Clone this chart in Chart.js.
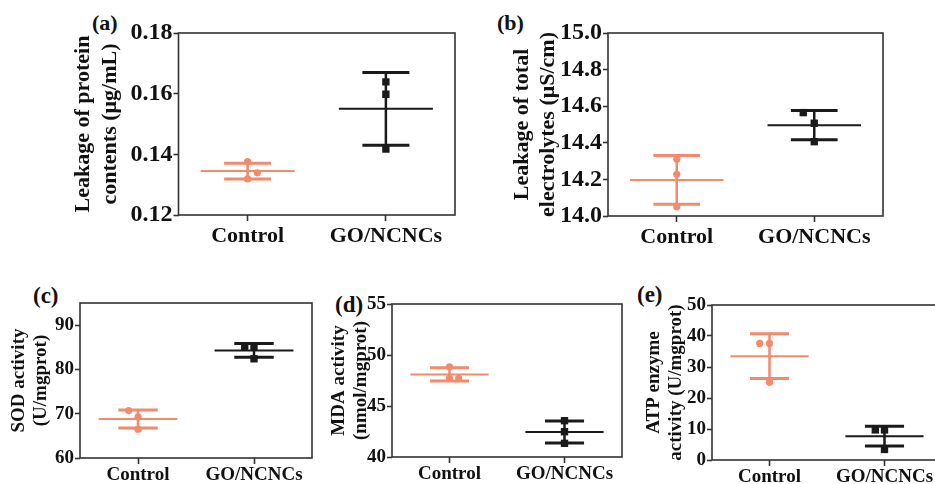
<!DOCTYPE html>
<html>
<head>
<meta charset="utf-8">
<script src="https://cdn.jsdelivr.net/npm/chart.js@4"></script>
<style>
  body { margin: 0; background: #fff; width: 935px; height: 484px; overflow: hidden; position: relative; font-family: "Liberation Serif", serif; }
  canvas { position: absolute; }
  .tag { position: absolute; font-weight: bold; line-height: 1; color: #111; }
</style>
</head>
<body>
<div class="tag" style="left:92px;top:12px;font-size:22px">(a)</div>
<div class="tag" style="left:497px;top:12px;font-size:22px">(b)</div>
<div class="tag" style="left:33px;top:284px;font-size:23px">(c)</div>
<div class="tag" style="left:335px;top:293px;font-size:23px">(d)</div>
<div class="tag" style="left:637px;top:283px;font-size:23px">(e)</div>
<canvas id="chartA"></canvas>
<canvas id="chartB"></canvas>
<canvas id="chartC"></canvas>
<canvas id="chartD"></canvas>
<canvas id="chartE"></canvas>
<script>
const groups = ["Control", "GO/NCNCs"];
const colors = ["#f28a6c", "#1a1a1a"];
const serif = "'Liberation Serif', 'Times New Roman', serif";

// (a) leakage of protein contents
const proteinControl = [0.1376, 0.1339, 0.1319];
const proteinGO = [0.1639, 0.1598, 0.1417];
const proteinMean = [0.1345, 0.1550];
const proteinSD = [0.0026, 0.0120];
const proteinJitter = [[0, 0.07, 0], [0, 0, 0]];
const proteinTicks = [0.12, 0.14, 0.16, 0.18];

// (b) leakage of total electrolytes
const electroControl = [14.310, 14.228, 14.051];
const electroGO = [14.565, 14.507, 14.406];
const electroMean = [14.197, 14.496];
const electroSD = [0.133, 0.080];
const electroJitter = [[0, 0, 0], [-0.08, 0, 0]];
const electroTicks = [14.0, 14.2, 14.4, 14.6, 14.8, 15.0];

// (c) SOD activity
const sodControl = [70.7, 69.3, 66.5];
const sodGO = [85.1, 85.1, 82.4];
const sodMean = [68.8, 84.3];
const sodSD = [2.05, 1.55];
const sodJitter = [[-0.08, 0, 0], [-0.08, 0, 0]];
const sodTicks = [60, 70, 80, 90];

// (d) MDA activity
const mdaControl = [48.85, 47.71, 47.71];
const mdaGO = [43.56, 42.48, 41.34];
const mdaMean = [48.1, 42.45];
const mdaSD = [0.66, 1.07];
const mdaJitter = [[0, 0, 0.08], [0, 0, 0]];
const mdaTicks = [40, 45, 50, 55];

// (e) ATP enzyme activity
const atpControl = [37.6, 37.6, 25.1];
const atpGO = [9.7, 9.7, 3.4];
const atpMean = [33.5, 7.7];
const atpSD = [7.2, 3.2];
const atpJitter = [[-0.085, 0, 0], [-0.08, 0, 0]];
const atpTicks = [0, 10, 20, 30, 40, 50];

function segment(x0, x1, y0, y1, color, width) {
  return {
    data: [{ x: x0, y: y0 }, { x: x1, y: y1 }],
    showLine: true, borderColor: color, borderWidth: width, pointRadius: 0
  };
}

function groupSets(i, values, jitter, mean, sd) {
  const c = i + 1;
  const color = colors[i];
  return [
    segment(c - 0.34, c + 0.34, mean, mean, color, 2),
    segment(c - 0.17, c + 0.17, mean + sd, mean + sd, color, 3),
    segment(c - 0.17, c + 0.17, mean - sd, mean - sd, color, 3),
    segment(c, c, mean - sd, mean + sd, color, 2.5),
    {
      data: values.map((v, k) => ({ x: c + jitter[k], y: v })),
      pointStyle: i === 0 ? "circle" : "rect",
      pointRadius: i === 0 ? 3.6 : 5.2,
      backgroundColor: color, borderColor: color, borderWidth: 0
    }
  ];
}

const frame = {
  id: "frame",
  afterDraw(chart) {
    const { ctx, chartArea: a } = chart;
    ctx.save();
    ctx.strokeStyle = "#333";
    ctx.lineWidth = 1.6;
    ctx.strokeRect(a.left, a.top, a.right - a.left, a.bottom - a.top);
    ctx.restore();
  }
};

function buildPanel(id, p) {
  const canvas = document.getElementById(id);
  const padTop = 16, padRight = 8;
  const canvasLeft = p.titleX - p.lh / 2 - 2;
  const yW = p.box.l - canvasLeft;
  canvas.width = yW + (p.box.r - p.box.l) + padRight;
  canvas.height = padTop + (p.box.b - p.box.t) + p.xH;
  canvas.style.left = canvasLeft + "px";
  canvas.style.top = (p.box.t - padTop) + "px";

  const datasets = [
    ...groupSets(0, p.control, p.jitter[0], p.mean[0], p.sd[0]),
    ...groupSets(1, p.go, p.jitter[1], p.mean[1], p.sd[1])
  ];

  new Chart(canvas, {
    type: "scatter",
    data: { datasets },
    plugins: [frame],
    options: {
      responsive: false,
      devicePixelRatio: 1,
      animation: false,
      layout: { padding: { top: padTop, right: padRight, left: 0, bottom: 0 } },
      plugins: { legend: { display: false }, tooltip: { enabled: false } },
      scales: {
        x: {
          type: "linear", min: 0.5, max: 2.5,
          afterBuildTicks: s => { s.ticks = groups.map((g, i) => ({ value: i + 1 })); },
          afterFit: s => { s.height = p.xH; },
          border: { display: false },
          grid: { drawOnChartArea: false, tickLength: 6, tickWidth: 1.6, tickColor: "#333" },
          ticks: {
            padding: p.xPad,
            color: "#111",
            font: { family: serif, weight: "bold", size: p.catFont },
            callback: v => groups[v - 1]
          }
        },
        y: {
          min: p.ticks[0], max: p.max,
          afterBuildTicks: s => { s.ticks = p.ticks.map(v => ({ value: v })); },
          afterFit: s => { s.width = yW; },
          border: { display: false },
          grid: { drawOnChartArea: false, tickLength: 5, tickWidth: 1.6, tickColor: "#333" },
          ticks: {
            padding: 1,
            color: "#111",
            font: { family: serif, weight: "bold", size: p.tickFont },
            callback: v => v.toFixed(p.decimals)
          },
          title: {
            display: true,
            text: p.title,
            color: "#111",
            padding: { top: 2, bottom: 0 },
            font: { family: serif, weight: "bold", size: p.titleFont, lineHeight: p.lh + "px" }
          }
        }
      }
    }
  });
}

buildPanel("chartA", {
  box: { l: 178, t: 33, r: 455, b: 215 }, titleX: 83, lh: 27, xH: 45, xPad: 2,
  tickFont: 24, catFont: 22, titleFont: 22,
  title: ["Leakage of protein", "contents (μg/mL)"],
  control: proteinControl, go: proteinGO, mean: proteinMean, sd: proteinSD,
  jitter: proteinJitter, ticks: proteinTicks, max: 0.18, decimals: 2
});

buildPanel("chartB", {
  box: { l: 608, t: 33, r: 883, b: 216 }, titleX: 522, lh: 26, xH: 45, xPad: 2,
  tickFont: 24, catFont: 22, titleFont: 22,
  title: ["Leakage of total", "electrolytes (μS/cm)"],
  control: electroControl, go: electroGO, mean: electroMean, sd: electroSD,
  jitter: electroJitter, ticks: electroTicks, max: 15.0, decimals: 1
});

buildPanel("chartC", {
  box: { l: 80, t: 303, r: 312, b: 458 }, titleX: 19, lh: 22, xH: 40, xPad: 0,
  tickFont: 19, catFont: 19, titleFont: 19,
  title: ["SOD activity", "(U/mgprot)"],
  control: sodControl, go: sodGO, mean: sodMean, sd: sodSD,
  jitter: sodJitter, ticks: sodTicks, max: 95, decimals: 0
});

buildPanel("chartD", {
  box: { l: 392, t: 304, r: 622, b: 457 }, titleX: 339, lh: 22, xH: 40, xPad: 0,
  tickFont: 19, catFont: 19, titleFont: 19,
  title: ["MDA activity", "(nmol/mgprot)"],
  control: mdaControl, go: mdaGO, mean: mdaMean, sd: mdaSD,
  jitter: mdaJitter, ticks: mdaTicks, max: 55, decimals: 0
});

buildPanel("chartE", {
  box: { l: 712, t: 305, r: 942, b: 460 }, titleX: 654, lh: 22, xH: 40, xPad: 0,
  tickFont: 19, catFont: 19, titleFont: 19,
  title: ["ATP enzyme", "activity (U/mgprot)"],
  control: atpControl, go: atpGO, mean: atpMean, sd: atpSD,
  jitter: atpJitter, ticks: atpTicks, max: 50, decimals: 0
});
</script>
</body>
</html>
